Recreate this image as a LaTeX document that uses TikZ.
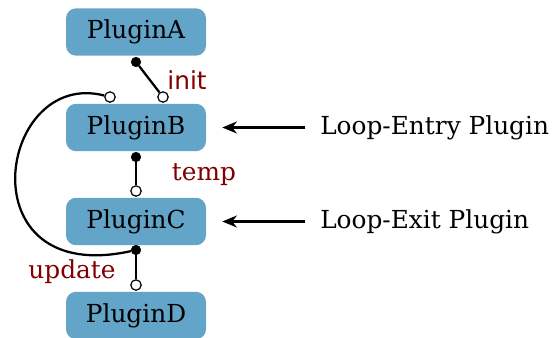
\documentclass[tikz,border=0pt]{standalone}
\usepackage{fontspec}
\setmainfont{DejaVu Serif}
\newfontfamily\sanslabel{DejaVu Sans}
\usetikzlibrary{arrows.meta}
\definecolor{pluginblue}{RGB}{99,164,201}
\definecolor{portred}{RGB}{128,0,0}
\begin{document}
\begin{tikzpicture}[x=0.75pt,y=-0.75pt]
    \tikzstyle{plugin}=[rectangle,rounded corners=7.5pt,fill=pluginblue,
                        minimum width=105pt,minimum height=35.5pt,font=\fontsize{18.6}{22}\selectfont]
    \tikzstyle{fulldot}=[circle,fill=black,draw=black,inner sep=0pt,minimum size=7.2pt]
    \tikzstyle{opendot}=[circle,fill=white,draw=black,line width=0.9pt,inner sep=0pt,minimum size=7.8pt]
    \tikzstyle{portlabel}=[text=portred,inner sep=0pt,font=\fontsize{18.6}{22}\selectfont]
    \tikzstyle{note}=[anchor=west,inner sep=0pt,font=\fontsize{18.6}{22}\selectfont]
    \useasboundingbox (0,0) rectangle (559,337);
    \clip (0,0) rectangle (559,337);

    \node[plugin] (pA) at (136,32)    {PluginA};
    \node[plugin] (pB) at (136,127.5) {PluginB};
    \node[plugin] (pC) at (136,221.5) {PluginC};
    \node[plugin] (pD) at (136,315.5) {PluginD};

    % ports
    \node[fulldot] (aout)  at (136,62)  {};
    \node[opendot] (bin)   at (163,97)  {};
    \node[opendot] (bloop) at (110,97)  {};
    \node[fulldot] (bout)  at (136,157) {};
    \node[opendot] (cin)   at (136,191) {};
    \node[fulldot] (cout)  at (136,250) {};
    \node[opendot] (din)   at (136,285) {};

    \draw[line width=1.7pt] (aout) -- (bin);
    \draw[line width=1.7pt] (bout) -- (cin);
    \draw[line width=1.7pt] (cout) -- (din);
    \draw[line width=1.7pt] (cout) .. controls (-36,288) and (-2,68) .. (bloop);

    \node[portlabel,font=\sanslabel\fontsize{18.6}{22}\selectfont] (linit) at (187,80) {init};
    \node[portlabel] (ltemp)   at (204,175) {temp};
    \node[portlabel] (lupdate) at (72,272)  {update};

    \node[note] (entry) at (320,127.5) {Loop-Entry Plugin};
    \node[note] (exit)  at (320,221.5) {Loop-Exit Plugin};
    \draw[-{Stealth[length=11pt,width=9pt]},line width=1.7pt,shorten <=11pt,shorten >=12pt] (entry.west) -- (pB.east);
    \draw[-{Stealth[length=11pt,width=9pt]},line width=1.7pt,shorten <=11pt,shorten >=12pt] (exit.west) -- (pC.east);

\end{tikzpicture}
\end{document}
